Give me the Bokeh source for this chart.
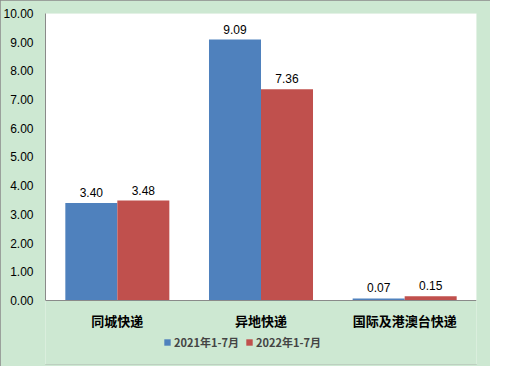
from bokeh.plotting import figure
from bokeh.models import (ColumnDataSource, FactorRange, Legend, LegendItem, NumeralTickFormatter,
                          FixedTicker, Range1d, BoxAnnotation)
from bokeh.transform import dodge
from bokeh.core.properties import value
from bokeh.embed import file_html
from bokeh.resources import INLINE

categories = ["同城快递", "异地快递", "国际及港澳台快递"]
series_names = ["2021年1-7月", "2022年1-7月"]
values_2021 = [3.40, 9.09, 0.07]
values_2022 = [3.48, 7.36, 0.15]
y_ticks = [0, 1, 2, 3, 4, 5, 6, 7, 8, 9, 10]

colors = ["#4f81bd", "#c0504d"]
bg = "#cde8d2"

src = ColumnDataSource(dict(
    cat=categories,
    v1=values_2021,
    v2=values_2022,
    l1=["%.2f" % v for v in values_2021],
    l2=["%.2f" % v for v in values_2022],
))

p = figure(x_range=FactorRange(*categories), y_range=Range1d(-2.23, 10),
           width=490, height=366, output_backend="svg", toolbar_location=None,
           min_border_left=44, min_border_right=14, min_border_top=13, min_border_bottom=2)
p.background_fill_color = bg
p.border_fill_color = bg
p.outline_line_color = None
p.grid.grid_line_color = None
p.styles = {"outline": "2px solid #8a8a8a", "outline-offset": "-2px"}

p.add_layout(BoxAnnotation(bottom=0, top=10, fill_color="white", fill_alpha=1,
                           line_color=None, level="underlay"))

bw = 0.362
r1 = p.vbar(x=dodge("cat", -bw / 2, range=p.x_range), top="v1", width=bw, source=src,
            fill_color=colors[0], line_color=None)
r2 = p.vbar(x=dodge("cat", bw / 2, range=p.x_range), top="v2", width=bw, source=src,
            fill_color=colors[1], line_color=None)

for col, lab, off in (("v1", "l1", -bw / 2), ("v2", "l2", bw / 2)):
    p.text(x=dodge("cat", off, range=p.x_range), y=col, text=lab, source=src,
           text_align="center", text_baseline="bottom", y_offset=-6,
           text_font=value("Liberation Sans"), text_font_size="12px", text_color="#000000")

p.yaxis.ticker = FixedTicker(ticks=y_ticks)
p.yaxis.bounds = (0, 10)
p.yaxis.formatter = NumeralTickFormatter(format="0.00")
p.yaxis.major_label_text_font = "Liberation Sans"
p.yaxis.major_label_text_font_size = "12px"
p.yaxis.major_label_text_color = "#000000"
p.yaxis.major_label_standoff = 6
p.axis.axis_line_color = "#8a8a8a"
p.axis.major_tick_line_color = None
p.axis.minor_tick_line_color = None

p.xaxis.fixed_location = 0
p.xaxis.major_label_text_font = "Noto Sans CJK SC"
p.xaxis.major_label_text_font_style = "bold"
p.xaxis.major_label_text_font_size = "13px"
p.xaxis.major_label_text_color = "#000000"
p.xaxis.major_label_standoff = 5

legend = Legend(items=[LegendItem(label=series_names[0], renderers=[r1]),
                       LegendItem(label=series_names[1], renderers=[r2])],
                orientation="horizontal", location=(118, 14))
legend.background_fill_alpha = 0
legend.border_line_color = None
legend.label_text_font = "Noto Sans CJK SC"
legend.label_text_font_style = "bold"
legend.label_text_font_size = "11px"
legend.glyph_width = 8
legend.glyph_height = 8
legend.label_standoff = 3
legend.spacing = 6
legend.padding = 0
legend.margin = 0
p.add_layout(legend, "center")

open("out.html", "w").write(file_html(p, INLINE))
